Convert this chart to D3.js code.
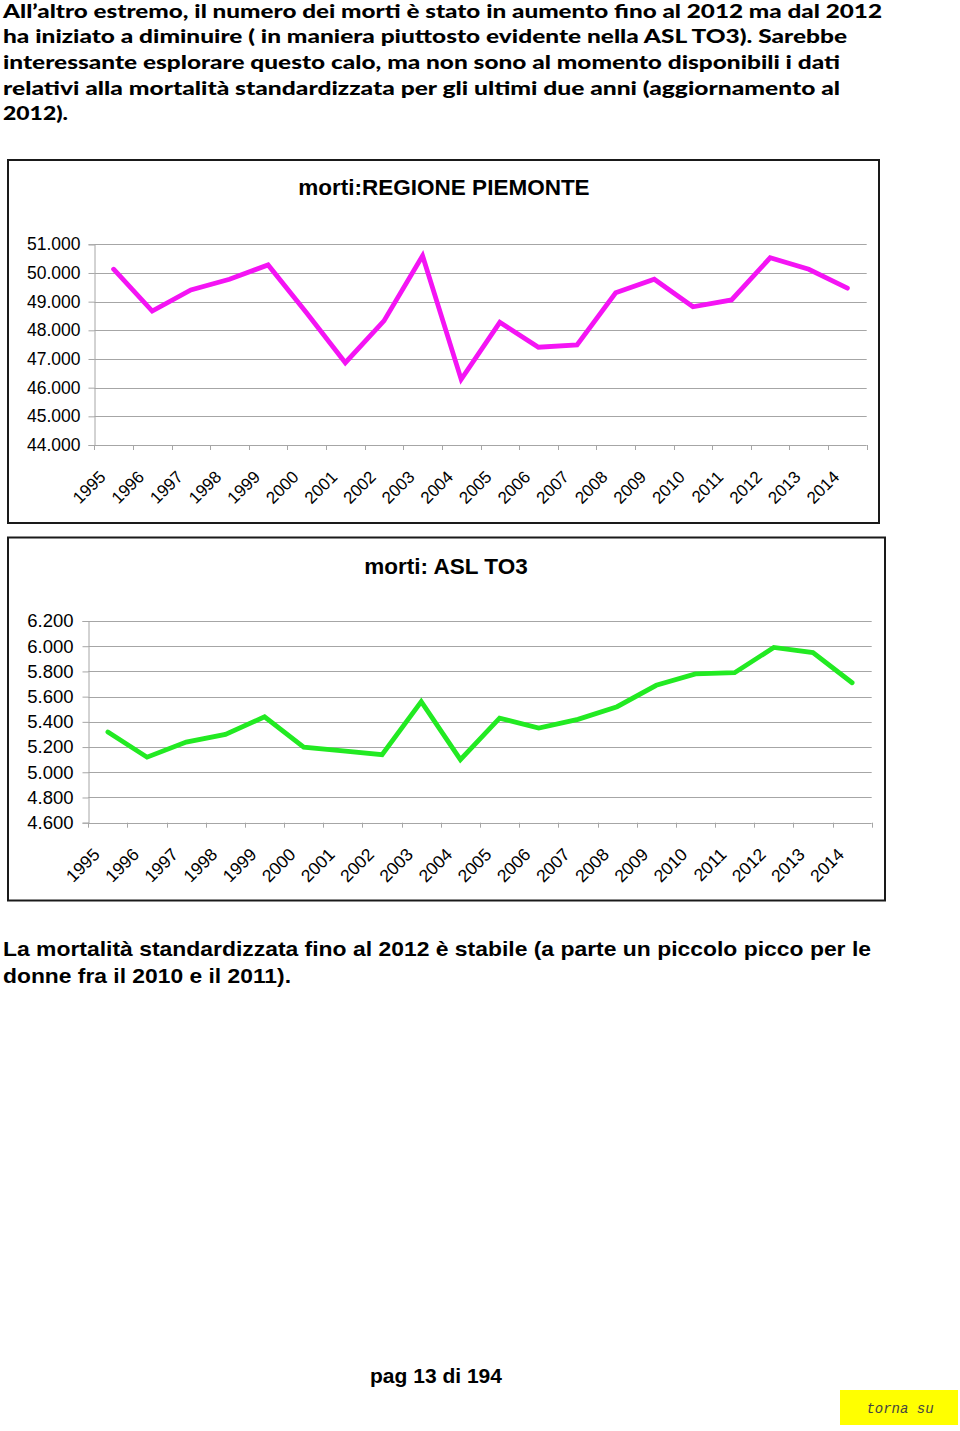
<!DOCTYPE html>
<html>
<head>
<meta charset="utf-8">
<script src="https://cdn.jsdelivr.net/npm/d3@7"></script>
<style>
  html, body { margin: 0; padding: 0; background: #fff; }
  svg { display: block; }
</style>
</head>
<body>
<div id="page"></div>
<script>
// Morti: Regione Piemonte e ASL TO3, 1995-2014

// Data
var years = ['1995','1996','1997','1998','1999','2000','2001','2002','2003','2004',
             '2005','2006','2007','2008','2009','2010','2011','2012','2013','2014'];
var piemonteDeaths = [50130, 48670, 49410, 49780, 50280, 48600, 46870, 48330, 50600, 46290,
                      48280, 47410, 47490, 49310, 49780, 48820, 49060, 50530, 50130, 49470];
var asl3Deaths = [5320, 5120, 5240, 5300, 5440, 5200, 5170, 5140, 5560, 5100,
                  5430, 5350, 5420, 5520, 5690, 5780, 5790, 5990, 5950, 5710];
var piemonteTicks = [44000, 45000, 46000, 47000, 48000, 49000, 50000, 51000];
var asl3Ticks = [4600, 4800, 5000, 5200, 5400, 5600, 5800, 6000, 6200];

var introLines = [
  'All\u2019altro estremo,  il numero dei morti \u00e8 stato  in aumento fino al 2012 ma dal 2012',
  'ha iniziato a diminuire ( in maniera piuttosto evidente nella ASL TO3). Sarebbe',
  'interessante esplorare questo calo, ma non sono al momento disponibili i dati',
  'relativi alla mortalit\u00e0 standardizzata  per gli ultimi due anni (aggiornamento al',
  '2012).'
];
var introWidths = [879, 844, 837, 837, 65];
var closingLines = [
  'La mortalit\u00e0 standardizzata fino al 2012 \u00e8 stabile (a parte un piccolo picco per le',
  'donne fra il 2010 e il 2011).'
];
var closingWidths = [868, 288];

var W = 960, H = 1431;
var it = d3.formatLocale({decimal: ',', thousands: '.', grouping: [3], currency: ['', '\u20ac']});
var fmt = it.format(',.0f');

var svg = d3.select('#page').append('svg')
  .attr('width', W)
  .attr('height', H);
svg.append('rect').attr('width', W).attr('height', H).attr('fill', '#fff');

// intro paragraph
svg.append('g').selectAll('text')
  .data(introLines)
  .enter().append('text')
  .attr('x', 3)
  .attr('y', function(d, i) { return 17.5 + i * 25.7; })
  .attr('font-family', 'Lato, "Open Sans", sans-serif')
  .attr('font-weight', 900)
  .attr('font-size', 19.5)
  .attr('fill', '#000')
  .attr('textLength', function(d, i) { return introWidths[i]; })
  .attr('lengthAdjust', 'spacingAndGlyphs')
  .text(function(d) { return d; });

function drawChart(cfg) {
  var g = svg.append('g');

  g.append('rect')
    .attr('x', cfg.frame[0]).attr('y', cfg.frame[1])
    .attr('width', cfg.frame[2]).attr('height', cfg.frame[3])
    .attr('fill', '#fff')
    .attr('stroke', '#1a1a1a')
    .attr('stroke-width', 2);

  g.append('text')
    .attr('x', cfg.titleX)
    .attr('y', cfg.titleY)
    .attr('text-anchor', 'middle')
    .attr('font-family', '"Liberation Sans", Arial, sans-serif')
    .attr('font-weight', 700)
    .attr('font-size', 22.5)
    .text(cfg.title);

  var x = d3.scaleBand().domain(years).range([cfg.left, cfg.right]).paddingInner(0).paddingOuter(0);
  var y = d3.scaleLinear().domain(d3.extent(cfg.ticks)).range([cfg.bottom, cfg.top]);

  // gridlines
  g.append('g').selectAll('line')
    .data(cfg.ticks)
    .enter().append('line')
    .attr('x1', cfg.left).attr('x2', cfg.right)
    .attr('y1', function(d) { return Math.round(y(d)) + 0.5; })
    .attr('y2', function(d) { return Math.round(y(d)) + 0.5; })
    .attr('stroke', '#a6a6a6')
    .attr('stroke-width', 1);

  // y axis
  var yAxis = g.append('g')
    .attr('transform', 'translate(' + (Math.round(cfg.left) + 0.5) + ',0)')
    .call(d3.axisLeft(y).tickValues(cfg.ticks).tickSize(6).tickPadding(cfg.pad).tickFormat(fmt));
  yAxis.select('.domain').attr('stroke', '#a6a6a6');
  yAxis.selectAll('.tick line').attr('stroke', '#a6a6a6');
  yAxis.selectAll('.tick text')
    .attr('font-family', '"Liberation Sans", Arial, sans-serif')
    .attr('font-size', cfg.yFont)
    .attr('fill', '#000');

  // x axis: ticks at the band edges
  var edges = years.map(function(d) { return x(d); }).concat([cfg.right]);
  var xAxis = g.append('g');
  xAxis.selectAll('line')
    .data(edges)
    .enter().append('line')
    .attr('x1', function(d) { return Math.round(d) + 0.5; })
    .attr('x2', function(d) { return Math.round(d) + 0.5; })
    .attr('y1', y(cfg.ticks[0]))
    .attr('y2', y(cfg.ticks[0]) + 5)
    .attr('stroke', '#a6a6a6');
  xAxis.selectAll('text')
    .data(years)
    .enter().append('text')
    .attr('transform', function(d) {
      return 'translate(' + (x(d) + x.bandwidth() / 2 - 7) + ',' + (y(cfg.ticks[0]) + 33) + ') rotate(-45)';
    })
    .attr('text-anchor', 'end')
    .attr('font-family', '"Liberation Sans", Arial, sans-serif')
    .attr('font-size', cfg.xFont)
    .text(function(d) { return d; });

  var line = d3.line()
    .x(function(d, i) { return x(years[i]) + x.bandwidth() / 2; })
    .y(function(d) { return y(d); });
  g.append('path')
    .datum(cfg.values)
    .attr('d', line)
    .attr('fill', 'none')
    .attr('stroke', cfg.color)
    .attr('stroke-width', 4.8)
    .attr('stroke-linejoin', 'miter')
    .attr('stroke-linecap', 'round');
}

drawChart({
  frame: [8, 160, 871, 363],
  title: 'morti:REGIONE PIEMONTE',
  titleX: 444, titleY: 195,
  left: 94.3, right: 866.7, top: 244.3, bottom: 445,
  ticks: piemonteTicks,
  values: piemonteDeaths,
  color: '#f414f4',
  pad: 8, yFont: 17.5, xFont: 17
});

drawChart({
  frame: [8, 537.5, 877, 363],
  title: 'morti: ASL TO3',
  titleX: 446, titleY: 573.5,
  left: 88.3, right: 871.7, top: 621, bottom: 822.7,
  ticks: asl3Ticks,
  values: asl3Deaths,
  color: '#22ea22',
  pad: 9, yFont: 18.5, xFont: 17.5
});

// closing paragraph
svg.append('g').selectAll('text')
  .data(closingLines)
  .enter().append('text')
  .attr('x', 3)
  .attr('y', function(d, i) { return 956 + i * 26.5; })
  .attr('font-family', '"Liberation Sans", Arial, sans-serif')
  .attr('font-weight', 700)
  .attr('font-size', 20.5)
  .attr('textLength', function(d, i) { return closingWidths[i]; })
  .attr('lengthAdjust', 'spacingAndGlyphs')
  .text(function(d) { return d; });

// footer
svg.append('text')
  .attr('x', 436).attr('y', 1383)
  .attr('text-anchor', 'middle')
  .attr('font-family', '"Liberation Sans", Arial, sans-serif')
  .attr('font-weight', 700)
  .attr('font-size', 21)
  .text('pag 13 di 194');

svg.append('rect')
  .attr('x', 840).attr('y', 1390)
  .attr('width', 118).attr('height', 35)
  .attr('fill', '#ffff00');
svg.append('text')
  .attr('x', 900).attr('y', 1413)
  .attr('text-anchor', 'middle')
  .attr('font-family', '"Liberation Mono", "Courier New", monospace')
  .attr('font-style', 'italic')
  .attr('font-size', 14)
  .attr('fill', '#444')
  .text('torna su');
</script>
</body>
</html>
